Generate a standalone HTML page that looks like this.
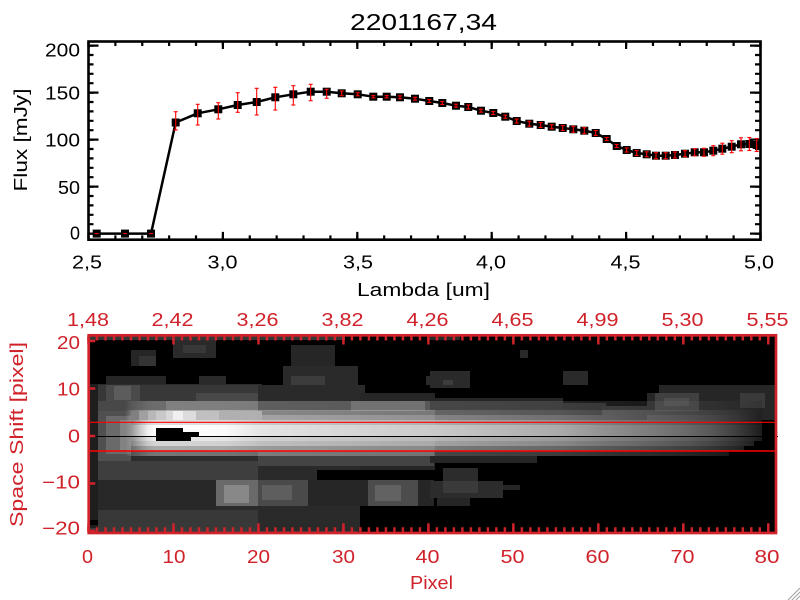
<!DOCTYPE html>
<html><head><meta charset="utf-8"><style>
html,body{margin:0;padding:0;background:#fff;width:800px;height:600px;overflow:hidden}
svg{display:block}
text{font-family:"Liberation Sans",sans-serif}
</style></head><body>
<svg width="800" height="600" viewBox="0 0 800 600" xmlns="http://www.w3.org/2000/svg">
<defs>
<linearGradient id="gC" gradientUnits="userSpaceOnUse" x1="89" y1="0" x2="775" y2="0">
<stop offset="0.0525" stop-color="#969696" stop-opacity="0"/>
<stop offset="0.0612" stop-color="#969696"/>
<stop offset="0.0743" stop-color="#c8c8c8"/>
<stop offset="0.086" stop-color="#f0f0f0"/>
<stop offset="0.0977" stop-color="#ffffff"/>
<stop offset="0.198" stop-color="#fafafa"/>
<stop offset="0.252" stop-color="#e4e4e4"/>
<stop offset="0.380" stop-color="#d6d6d6"/>
<stop offset="0.503" stop-color="#cacaca"/>
<stop offset="0.599" stop-color="#bababa"/>
<stop offset="0.687" stop-color="#aaaaaa"/>
<stop offset="0.745" stop-color="#949494"/>
<stop offset="0.818" stop-color="#7c7c7c"/>
<stop offset="0.8746" stop-color="#686868"/>
<stop offset="0.907" stop-color="#585858"/>
<stop offset="0.9417" stop-color="#404040"/>
<stop offset="0.966" stop-color="#2a2a2a"/>
<stop offset="0.9781" stop-color="#1e1e1e"/>
</linearGradient>
<marker id="sq" markerWidth="8" markerHeight="8" refX="4" refY="4" markerUnits="userSpaceOnUse" overflow="visible"><rect width="8" height="8" fill="#000"/></marker>
<marker id="cap" markerWidth="4" markerHeight="2" refX="2" refY="1" markerUnits="userSpaceOnUse" overflow="visible"><path d="M0 1H4" stroke="#ff0000" stroke-width="1.1"/></marker>
</defs>

<text x="423.5" y="30" font-size="23.5" text-anchor="middle" textLength="147" lengthAdjust="spacingAndGlyphs">2201167,34</text>

<rect x="88.5" y="41.5" width="672" height="198.2" fill="none" stroke="#000" stroke-width="2.6"/>
<line x1="87.4" y1="237.2" x2="762" y2="237.2" stroke="#000" stroke-width="3.6" stroke-dasharray="2.2 24.68"/>
<line x1="87.4" y1="235.45" x2="762" y2="235.45" stroke="#000" stroke-width="7.1" stroke-dasharray="2.2 132.2"/>
<line x1="87.4" y1="44" x2="762" y2="44" stroke="#000" stroke-width="4" stroke-dasharray="2.2 24.68"/>
<line x1="87.4" y1="45.5" x2="762" y2="45.5" stroke="#000" stroke-width="7" stroke-dasharray="2.2 132.2"/>
<line x1="91.5" y1="44.5" x2="91.5" y2="236" stroke="#000" stroke-width="4" stroke-dasharray="2.2 7.2"/>
<line x1="94" y1="44.5" x2="94" y2="236" stroke="#000" stroke-width="9" stroke-dasharray="2.2 44.8"/>
<line x1="757.5" y1="44.5" x2="757.5" y2="236" stroke="#000" stroke-width="5" stroke-dasharray="2.2 7.2"/>
<line x1="755" y1="44.5" x2="755" y2="236" stroke="#000" stroke-width="10" stroke-dasharray="2.2 44.8"/>

<g font-size="18.5" fill="#000">
<text x="80" y="56.7" text-anchor="end" textLength="35" lengthAdjust="spacingAndGlyphs">200</text>
<text x="80" y="99.3" text-anchor="end" textLength="35" lengthAdjust="spacingAndGlyphs">150</text>
<text x="80" y="146.7" text-anchor="end" textLength="35" lengthAdjust="spacingAndGlyphs">100</text>
<text x="80" y="194" text-anchor="end" textLength="22" lengthAdjust="spacingAndGlyphs">50</text>
<text x="80" y="239.3" text-anchor="end" textLength="10" lengthAdjust="spacingAndGlyphs">0</text>
<text x="87" y="268.5" text-anchor="middle" textLength="30" lengthAdjust="spacingAndGlyphs">2,5</text>
<text x="222.5" y="268.5" text-anchor="middle" textLength="30" lengthAdjust="spacingAndGlyphs">3,0</text>
<text x="358" y="268.5" text-anchor="middle" textLength="30" lengthAdjust="spacingAndGlyphs">3,5</text>
<text x="491" y="268.5" text-anchor="middle" textLength="30" lengthAdjust="spacingAndGlyphs">4,0</text>
<text x="625.5" y="268.5" text-anchor="middle" textLength="30" lengthAdjust="spacingAndGlyphs">4,5</text>
<text x="759" y="268.5" text-anchor="middle" textLength="30" lengthAdjust="spacingAndGlyphs">5,0</text>
<text x="423.5" y="296" text-anchor="middle" textLength="133" lengthAdjust="spacingAndGlyphs">Lambda [um]</text>
<text transform="translate(27,140) rotate(-90)" text-anchor="middle" textLength="103" lengthAdjust="spacingAndGlyphs">Flux [mJy]</text>
</g>

<polyline fill="none" stroke="#000" stroke-width="2.5" stroke-linejoin="round" marker-start="url(#sq)" marker-mid="url(#sq)" marker-end="url(#sq)" points="96.7,233.6 125,233.6 151,233.6 175.7,122.5 197.7,113.3 218.3,109.3 237.7,105 256.7,102 275.3,97.3 293.3,94.3 310.7,91.7 326.7,91.7 341.7,93.3 357.7,94.3 373.3,96.7 386.7,96.7 400,97.3 415,98.7 429.3,101 442.3,103 456,105.7 468.3,107 481,110.7 493.3,113 505.3,116.7 516.7,121 529.3,123.7 540.7,125 551.7,126.7 562.7,128 573.3,129.3 584.3,130.7 595.7,133 606.7,139 616.7,146 626.7,150 636.7,153 646.7,154.3 656,155.7 665.7,155.7 675,155 685,153.7 694.7,152.3 704,152.3 713.3,150.7 722.3,148.7 731.7,146.7 741,144.3 749.3,144 756.7,145"/>

<path fill="none" stroke="#ff0000" stroke-width="1.1" d="M94.7 233.6h4M123 233.6h4M149 233.6h4"/>
<path fill="none" stroke="#ff0000" stroke-width="1.1" marker-start="url(#cap)" marker-mid="url(#cap)" marker-end="url(#cap)" d="M175.7 111.7V130M197.7 104.3V125M218.3 102.7V119M237.7 92.7V112.3M256.7 88.3V115M275.3 87.3V110M293.3 85.7V105M310.7 84.3V100.7M326.7 89.3V98.3M341.7 91V95.7M357.7 92.8V95.8M373.3 95.5V97.9M386.7 95.5V97.9M400 95.8V98.8M415 97.2V100.2M429.3 99.5V102.5M442.3 101.5V104.5M456 104.2V107.2M468.3 105V109M481 109.2V112.2M493.3 111.5V114.5M505.3 115.2V118.2M516.7 119V123M529.3 121.2V126.2M540.7 122.5V127.5M551.7 124.7V128.7M562.7 125.5V130.5M573.3 126.3V132.3M584.3 127.7V133.7M595.7 130.5V135.5M606.7 137.5V140.5M616.7 144.5V147.5M626.7 148V152M636.7 150.5V155.5M646.7 151.8V156.8M656 152.7V158.7M665.7 152.7V158.7M675 152V158M685 150.7V156.7M694.7 148.8V155.8M704 148.3V156.3M713.3 145.7V155.7M722.3 143.2V154.2M731.7 140.7V152.7M741 137.8V150.8M749.3 137.5V150.5M756.7 138.5V151.5"/>

<g shape-rendering="crispEdges">
<rect x="89" y="336" width="686" height="196" fill="#000"/>
<rect x="89" y="384" width="173" height="147" fill="#2c2c2c"/>
<rect x="106" y="376" width="60" height="8" fill="#262626"/>
<rect x="199" y="376" width="27" height="8" fill="#2a2a2a"/>
<rect x="89" y="384" width="9" height="147" fill="#1e1e1e"/>
<rect x="89" y="520" width="9" height="5" fill="#000"/>
<rect x="131" y="350" width="25" height="16" fill="#262626"/>
<rect x="139" y="356" width="17" height="10" fill="#343434"/>
<rect x="173" y="340" width="43" height="18" fill="#2a2a2a"/>
<rect x="183" y="345" width="23" height="8" fill="#383838"/>
<rect x="98" y="385" width="164" height="18" fill="#383838"/>
<rect x="106" y="385" width="34" height="18" fill="#4a4a4a"/>
<rect x="114" y="386" width="17" height="14" fill="#5c5c5c"/>
<rect x="196" y="393" width="66" height="10" fill="#484848"/>
<rect x="98" y="401" width="164" height="10" fill="#484848"/>
<rect x="166" y="401" width="96" height="10" fill="#606060"/>
<rect x="98" y="411" width="33" height="50" fill="#505050"/>
<rect x="106" y="416" width="25" height="38" fill="#6a6a6a"/>
<rect x="120" y="420" width="11" height="30" fill="#828282"/>
<rect x="98" y="461" width="164" height="19" fill="#3e3e3e"/>
<rect x="98" y="480" width="118" height="30" fill="#282828"/>
<rect x="98" y="510" width="164" height="21" fill="#383838"/>
<rect x="216" y="480" width="46" height="26" fill="#6a6a6a"/>
<rect x="224" y="485" width="25" height="18" fill="#888888"/>
<rect x="89" y="336" width="256" height="4" fill="#363636"/>
<rect x="89" y="528" width="269" height="4" fill="#3a3a3a"/>
<rect x="258" y="393" width="102" height="138" fill="#2a2a2a"/>
<rect x="360" y="393" width="75" height="77" fill="#262626"/>
<rect x="291" y="345" width="44" height="21" fill="#262626"/>
<rect x="283" y="366" width="75" height="30" fill="#2a2a2a"/>
<rect x="291" y="376" width="34" height="12" fill="#3c3c3c"/>
<rect x="426" y="376" width="8" height="9" fill="#2a2a2a"/>
<rect x="258" y="385" width="107" height="8" fill="#2a2a2a"/>
<rect x="258" y="401" width="176" height="10" fill="#3c3c3c"/>
<rect x="351" y="401" width="74" height="10" fill="#5a5a5a"/>
<rect x="258" y="451" width="176" height="15" fill="#444444"/>
<rect x="317" y="470" width="118" height="10" fill="#000"/>
<rect x="308" y="480" width="60" height="26" fill="#262626"/>
<rect x="258" y="480" width="50" height="26" fill="#4a4a4a"/>
<rect x="262" y="485" width="30" height="15" fill="#5e5e5e"/>
<rect x="368" y="480" width="50" height="26" fill="#4c4c4c"/>
<rect x="375" y="485" width="26" height="16" fill="#626262"/>
<rect x="418" y="480" width="16" height="26" fill="#262626"/>
<rect x="360" y="506" width="75" height="25" fill="#000"/>
<rect x="430" y="371" width="40" height="17" fill="#2a2a2a"/>
<rect x="443" y="380" width="10" height="5" fill="#3c3c3c"/>
<rect x="520" y="350" width="8" height="8" fill="#2a2a2a"/>
<rect x="563" y="371" width="25" height="14" fill="#2a2a2a"/>
<rect x="430" y="398" width="133" height="12" fill="#262626"/>
<rect x="563" y="403" width="43" height="7" fill="#222222"/>
<rect x="430" y="456" width="107" height="7" fill="#262626"/>
<rect x="443" y="468" width="35" height="13" fill="#2c2c2c"/>
<rect x="430" y="481" width="73" height="17" fill="#2c2c2c"/>
<rect x="443" y="481" width="35" height="12" fill="#3a3a3a"/>
<rect x="503" y="485" width="17" height="5" fill="#262626"/>
<rect x="437" y="498" width="33" height="8" fill="#262626"/>
<rect x="430" y="336" width="30" height="4" fill="#2a2a2a"/>
<rect x="602" y="406" width="45" height="9" fill="#262626"/>
<rect x="647" y="385" width="128" height="35" fill="#262626"/>
<rect x="647" y="385" width="12" height="8" fill="#000"/>
<rect x="655" y="393" width="44" height="18" fill="#404040"/>
<rect x="664" y="398" width="25" height="8" fill="#4e4e4e"/>
<rect x="740" y="393" width="25" height="15" fill="#3a3a3a"/>
</g>
<g fill="url(#gC)">
<rect x="89" y="401" width="673" height="9" opacity="0.2"/>
<rect x="89" y="410" width="673" height="5" opacity="0.5"/>
<rect x="89" y="415" width="673" height="5" opacity="0.65"/>
<rect x="89" y="420" width="673" height="5" opacity="0.85"/>
<rect x="89" y="425" width="673" height="11"/>
<rect x="89" y="436" width="673" height="5" opacity="0.9"/>
<rect x="89" y="441" width="665" height="5" opacity="0.8"/>
<rect x="89" y="446" width="655" height="5" opacity="0.6"/>
<rect x="89" y="451" width="640" height="5" opacity="0.35"/>
</g>
<g shape-rendering="crispEdges">
<rect x="131" y="411" width="8" height="9" fill="#808080"/>
<rect x="139" y="411" width="9" height="9" fill="#a0a0a0"/>
<rect x="148" y="411" width="8" height="9" fill="#b8b8b8"/>
<rect x="156" y="411" width="10" height="9" fill="#c8c8c8"/>
<rect x="166" y="411" width="7" height="9" fill="#d8d8d8"/>
<rect x="173" y="411" width="10" height="9" fill="#f0f0f0"/>
<rect x="183" y="411" width="13" height="9" fill="#dcdcdc"/>
<rect x="196" y="411" width="23" height="9" fill="#c0c0c0"/>
<rect x="219" y="411" width="43" height="9" fill="#b0b0b0"/>
<rect x="156" y="428" width="27" height="13" fill="#000"/>
<rect x="183" y="432" width="16" height="5" fill="#000"/>
<rect x="183" y="437" width="8" height="4" fill="#000"/>
</g>
<line x1="89" y1="436.5" x2="778" y2="436.5" stroke="#000" stroke-width="1"/>
<line x1="89" y1="422.3" x2="776" y2="422.3" stroke="#ff0000" stroke-width="1.1"/>
<line x1="89" y1="451" x2="776" y2="451" stroke="#ff0000" stroke-width="1.6"/>

<g stroke="#d0222a">
<rect x="88.7" y="335.3" width="687.3" height="197.7" fill="none" stroke-width="2.7"/>
<line x1="87.25" y1="529.5" x2="777" y2="529.5" stroke-width="4.5" stroke-dasharray="2.5 5.9975"/>
<line x1="87.25" y1="527.5" x2="777" y2="527.5" stroke-width="8.5" stroke-dasharray="2.5 82.475"/>
<line x1="87.25" y1="338.5" x2="777" y2="338.5" stroke-width="4" stroke-dasharray="2.5 5.9975"/>
<line x1="87.25" y1="340.5" x2="777" y2="340.5" stroke-width="8" stroke-dasharray="2.5 82.475"/>
<line x1="92.3" y1="339.75" x2="92.3" y2="532" stroke-width="6" stroke-dasharray="2.5 45"/>
</g>
<g font-size="18.5" fill="#d0222a">
<text x="88" y="326" text-anchor="middle" textLength="42" lengthAdjust="spacingAndGlyphs">1,48</text>
<text x="172.5" y="326" text-anchor="middle" textLength="42" lengthAdjust="spacingAndGlyphs">2,42</text>
<text x="257.5" y="326" text-anchor="middle" textLength="42" lengthAdjust="spacingAndGlyphs">3,26</text>
<text x="342.5" y="326" text-anchor="middle" textLength="42" lengthAdjust="spacingAndGlyphs">3,82</text>
<text x="427.5" y="326" text-anchor="middle" textLength="42" lengthAdjust="spacingAndGlyphs">4,26</text>
<text x="512.5" y="326" text-anchor="middle" textLength="42" lengthAdjust="spacingAndGlyphs">4,65</text>
<text x="597.5" y="326" text-anchor="middle" textLength="42" lengthAdjust="spacingAndGlyphs">4,99</text>
<text x="682.5" y="326" text-anchor="middle" textLength="42" lengthAdjust="spacingAndGlyphs">5,30</text>
<text x="767.5" y="326" text-anchor="middle" textLength="42" lengthAdjust="spacingAndGlyphs">5,55</text>
<text x="80" y="349" text-anchor="end" textLength="23" lengthAdjust="spacingAndGlyphs">20</text>
<text x="80" y="395.5" text-anchor="end" textLength="23" lengthAdjust="spacingAndGlyphs">10</text>
<text x="80" y="442.5" text-anchor="end" textLength="12" lengthAdjust="spacingAndGlyphs">0</text>
<text x="80" y="488.5" text-anchor="end" textLength="38" lengthAdjust="spacingAndGlyphs">−10</text>
<text x="80" y="534.5" text-anchor="end" textLength="38" lengthAdjust="spacingAndGlyphs">−20</text>
<text x="87.5" y="563" text-anchor="middle" textLength="11" lengthAdjust="spacingAndGlyphs">0</text>
<text x="174" y="563" text-anchor="middle" textLength="23" lengthAdjust="spacingAndGlyphs">10</text>
<text x="258.5" y="563" text-anchor="middle" textLength="23" lengthAdjust="spacingAndGlyphs">20</text>
<text x="343.5" y="563" text-anchor="middle" textLength="23" lengthAdjust="spacingAndGlyphs">30</text>
<text x="427.5" y="563" text-anchor="middle" textLength="24" lengthAdjust="spacingAndGlyphs">40</text>
<text x="512.5" y="563" text-anchor="middle" textLength="24" lengthAdjust="spacingAndGlyphs">50</text>
<text x="597.5" y="563" text-anchor="middle" textLength="24" lengthAdjust="spacingAndGlyphs">60</text>
<text x="682.5" y="563" text-anchor="middle" textLength="24" lengthAdjust="spacingAndGlyphs">70</text>
<text x="767" y="563" text-anchor="middle" textLength="25" lengthAdjust="spacingAndGlyphs">80</text>
<text x="431.5" y="589" text-anchor="middle" textLength="43" lengthAdjust="spacingAndGlyphs">Pixel</text>
<text transform="translate(23,434.5) rotate(-90)" text-anchor="middle" textLength="185" lengthAdjust="spacingAndGlyphs">Space Shift [pixel]</text>
</g>

<path d="M788 600L800 588M792 600L800 592M796 600L800 596" stroke="#a0a0a0" stroke-width="1" fill="none"/>
</svg>
</body></html>
